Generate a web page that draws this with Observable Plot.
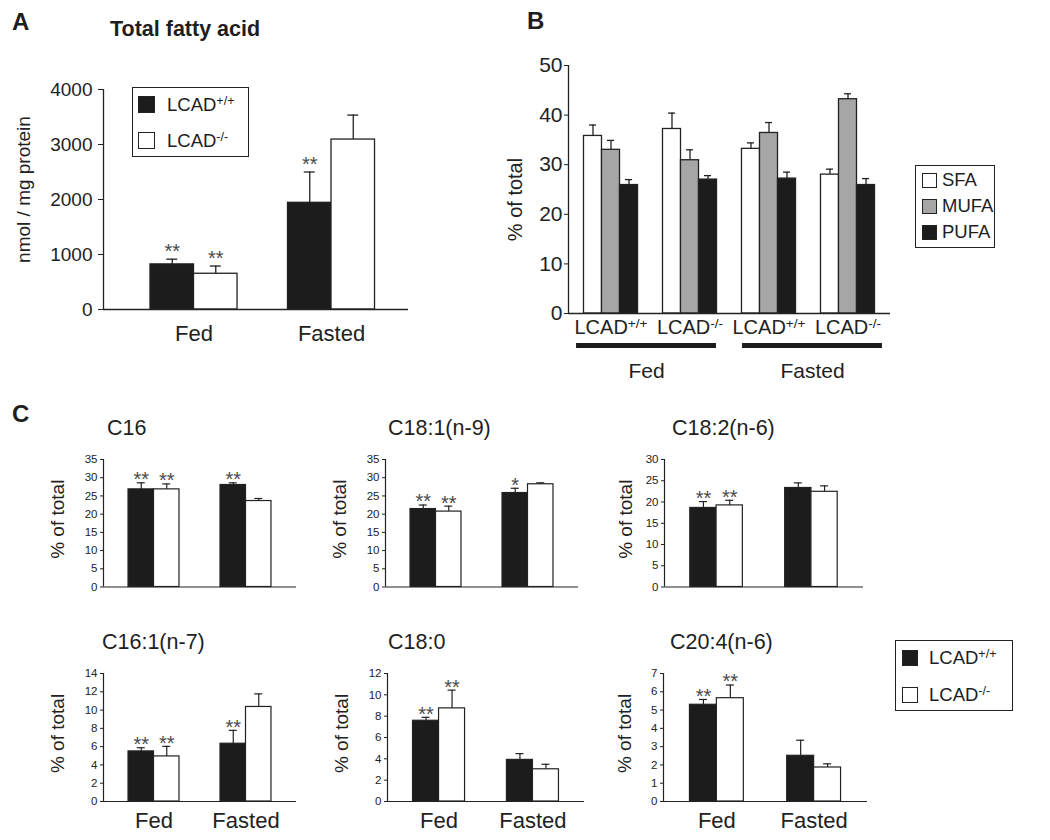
<!DOCTYPE html>
<html>
<head>
<meta charset="utf-8">
<script src="https://cdn.jsdelivr.net/npm/d3@7"></script>
<script src="https://cdn.jsdelivr.net/npm/@observablehq/plot@0.6"></script>
<style>
  html, body { margin: 0; padding: 0; background: #fff; }
  body { font-family: "Liberation Sans", Arial, Helvetica, sans-serif; color: #1e1e1e; }
  #fig { position: relative; width: 1050px; height: 840px; overflow: hidden; background: #fff; }
  #fig svg { position: absolute; }
  .t { position: absolute; line-height: 1; white-space: nowrap; }
  .b { font-weight: bold; }
  .box { position: absolute; box-sizing: border-box; border: 1.3px solid #222; background: #fff; }
  .sw { position: absolute; box-sizing: border-box; border: 1.3px solid #222; }
  .sup { font-size: 0.68em; position: relative; top: -0.47em; }
</style>
</head>
<body>
<div id="fig"></div>
<script>
// ---------------- DATA ----------------
const conditions = ["Fed", "Fasted"];
const genotypes = ["LCAD+/+", "LCAD-/-"];

// Panel A: total fatty acid, nmol / mg protein (mean and SEM)
const totalMeanWT = [820, 1940];
const totalSemWT = [95, 560];
const totalSigWT = ["**", "**"];
const totalMeanKO = [650, 3090];
const totalSemKO = [140, 445];
const totalSigKO = ["**", ""];
const totalTicks = [0, 1000, 2000, 3000, 4000];

// Panel B: fatty acid classes, % of total; groups = Fed WT, Fed KO, Fasted WT, Fasted KO
const classNames = ["SFA", "MUFA", "PUFA"];
const sfaMean = [35.8, 37.2, 33.2, 28.0];
const sfaSem = [2.2, 3.2, 1.2, 1.1];
const mufaMean = [33.0, 30.9, 36.4, 43.2];
const mufaSem = [1.9, 2.1, 2.1, 1.1];
const pufaMean = [25.9, 27.0, 27.2, 25.9];
const pufaSem = [1.1, 0.8, 1.3, 1.3];
const classTicks = [0, 10, 20, 30, 40, 50];

// Panel C: individual fatty acids, % of total; [Fed, Fasted]
const acidNames = ["C16", "C18:1(n-9)", "C18:2(n-6)", "C16:1(n-7)", "C18:0", "C20:4(n-6)"];
const acidMeanWT = [[26.8, 28.0], [21.4, 25.8], [18.6, 23.3], [5.48, 6.32], [7.57, 3.9], [5.29, 2.5]];
const acidSemWT  = [[1.8, 0.6], [1.1, 1.3], [1.5, 1.2], [0.4, 1.46], [0.32, 0.59], [0.29, 0.85]];
const acidSigWT  = [["**", "**"], ["**", "*"], ["**", ""], ["**", "**"], ["**", ""], ["**", ""]];
const acidMeanKO = [[26.8, 23.6], [20.7, 28.2], [19.2, 22.4], [4.93, 10.34], [8.73, 3.02], [5.65, 1.86]];
const acidSemKO  = [[1.5, 0.7], [1.5, 0.4], [1.2, 1.4], [1.1, 1.43], [1.71, 0.47], [0.72, 0.2]];
const acidSigKO  = [["**", ""], ["**", ""], ["**", ""], ["**", ""], ["**", ""], ["**", ""]];
const acidTicks = [
  [0, 5, 10, 15, 20, 25, 30, 35],
  [0, 5, 10, 15, 20, 25, 30, 35],
  [0, 5, 10, 15, 20, 25, 30],
  [0, 2, 4, 6, 8, 10, 12, 14],
  [0, 2, 4, 6, 8, 10, 12],
  [0, 1, 2, 3, 4, 5, 6, 7]
];

// ---------------- STYLE ----------------
const FONT = '"Liberation Sans", Arial, Helvetica, sans-serif';
const INK = "#222";
const BLACK = "#1c1c1c";
const GREY = "#a6a6a6";
const WHITE = "#ffffff";
const fig = document.getElementById("fig");

function superscripts(svg) {
  svg.querySelectorAll("text").forEach(t => {
    const m = t.textContent.match(/^LCAD(.+)$/);
    if (m && t.children.length === 0) {
      t.textContent = "LCAD";
      const ts = document.createElementNS("http://www.w3.org/2000/svg", "tspan");
      ts.setAttribute("dy", "-0.45em");
      ts.setAttribute("font-size", "68%");
      ts.textContent = m[1];
      t.appendChild(ts);
    }
  });
}

function barPanel(c) {
  const range = [c.mL, c.width - c.mR];
  const bandOpts = {type: "band", domain: c.groups, range, round: false,
    paddingInner: c.band[0], paddingOuter: c.band[1], align: c.band[2]};
  const bw = Plot.scale({x: bandOpts}).bandwidth;
  const n = c.series.length;
  const sub = bw / n;
  const fw = c.width - c.mL - c.mR;
  const marks = [];
  c.series.forEach((s, k) => {
    const rows = c.groups.map((g, i) => ({g, v: s.values[i], top: s.values[i] + s.errors[i], sig: s.sig ? s.sig[i] : ""}));
    const inL = k * sub, inR = (n - 1 - k) * sub;
    const dx = (k + 0.5) * sub - bw / 2;
    const capInset = (bw - c.capW) / 2;
    marks.push(Plot.barY(rows, {x: "g", y: "v", fill: s.fill, stroke: INK, strokeWidth: c.lineW, insetLeft: inL, insetRight: inR}));
    marks.push(Plot.ruleX(rows, {x: "g", y1: "v", y2: "top", dx, stroke: INK, strokeWidth: c.lineW}));
    marks.push(Plot.tickY(rows, {x: "g", y: "top", dx, insetLeft: capInset, insetRight: capInset, stroke: INK, strokeWidth: c.lineW}));
    const starred = rows.filter(d => d.sig);
    if (starred.length) marks.push(Plot.text(starred, {x: "g", y: "top", text: "sig", dx, dy: c.starDy, fontSize: c.starFont, fill: "#4a4a4a"}));
  });
  marks.push(Plot.ruleY([c.yDomain[0]], {stroke: INK, strokeWidth: c.lineW}));
  marks.push(Plot.ruleX([0], {x: null, y1: c.yDomain[0], y2: c.yDomain[1], dx: -fw / 2, stroke: INK, strokeWidth: c.lineW}));
  marks.push(Plot.axisY({ticks: c.yTicks, tickFormat: d => String(d), tickSize: c.yTickSize, tickPadding: c.yTickPadding, fontSize: c.tickFont, label: null, stroke: INK, fill: INK}));
  marks.push(Plot.text([c.yLabel], {text: d => d, frameAnchor: "left", textAnchor: "middle", rotate: -90, dx: -c.yLabelOffset, dy: c.yLabelDy || 0, fontSize: c.yLabelFont, fill: INK}));
  const xScale = Object.assign({}, bandOpts);
  if (c.xAxis) {
    marks.push(Plot.axisX({tickSize: 0, tickPadding: c.xTickPadding, fontSize: c.xFont, label: null, tickFormat: c.xTickFormat || (d => d)}));
  } else {
    xScale.axis = null;
  }
  const svg = Plot.plot({
    width: c.width, height: c.height,
    marginLeft: c.mL, marginRight: c.mR, marginTop: c.mT, marginBottom: c.mB,
    x: xScale,
    y: {domain: c.yDomain, nice: false},
    style: {fontFamily: FONT, fontSize: "14px", color: INK, background: "transparent", overflow: "visible"},
    marks
  });
  svg.style.left = c.left + "px";
  svg.style.top = c.top + "px";
  superscripts(svg);
  fig.appendChild(svg);
  return svg;
}

function label(html, left, capTop, size, bold) {
  const d = document.createElement("div");
  d.className = "t" + (bold ? " b" : "");
  d.style.left = left + "px";
  d.style.top = (capTop - 0.13 * size) + "px";
  d.style.fontSize = size + "px";
  d.innerHTML = html;
  fig.appendChild(d);
  return d;
}

function legendBox(left, top, w, h, items) {
  const b = document.createElement("div");
  b.className = "box";
  Object.assign(b.style, {left: left + "px", top: top + "px", width: w + "px", height: h + "px"});
  fig.appendChild(b);
  items.forEach(it => {
    const s = document.createElement("div");
    s.className = "sw";
    Object.assign(s.style, {left: it.sx + "px", top: it.sy + "px", width: it.ss + "px", height: it.ss + "px", background: it.fill});
    fig.appendChild(s);
    label(it.html, it.tx, it.capTop, it.size, false);
  });
}

function genoHTML(g) {
  return "LCAD<span class='sup'>" + g.slice(4) + "</span>";
}

// ---------------- PANEL A ----------------
barPanel({
  left: 0, top: 0, width: 420, height: 350, mL: 103, mR: 12, mT: 89, mB: 41,
  groups: conditions, band: [0.367, 0.2926, 0.584],
  series: [
    {values: totalMeanWT, errors: totalSemWT, sig: totalSigWT, fill: BLACK},
    {values: totalMeanKO, errors: totalSemKO, sig: totalSigKO, fill: WHITE}
  ],
  yDomain: [0, 4000], yTicks: totalTicks, yTickSize: 5, yTickPadding: 6, tickFont: 19,
  yLabel: "nmol / mg protein", yLabelFont: 19, yLabelOffset: 80, yLabelDy: -10,
  xAxis: true, xFont: 22, xTickPadding: 16,
  capW: 11, starFont: 20, starDy: -7.5, lineW: 1.3
});
label("A", 12, 13, 24, true);
label("Total fatty acid", 110, 22, 21.5, true);
legendBox(132, 87, 117, 70, [
  {sx: 138, sy: 96, ss: 17, fill: BLACK, html: genoHTML(genotypes[0]), tx: 167, capTop: 98.8, size: 18.5},
  {sx: 138, sy: 132, ss: 17, fill: WHITE, html: genoHTML(genotypes[1]), tx: 167, capTop: 134.8, size: 18.5}
]);

// ---------------- PANEL B ----------------
const classGroups = conditions.flatMap(c => genotypes.map(g => c + "|" + g));
barPanel({
  left: 480, top: 0, width: 420, height: 340, mL: 88, mR: 10, mT: 65, mB: 27,
  groups: classGroups, band: [0.316, 0.196, 0.5],
  series: [
    {values: sfaMean, errors: sfaSem, fill: WHITE},
    {values: mufaMean, errors: mufaSem, fill: GREY},
    {values: pufaMean, errors: pufaSem, fill: BLACK}
  ],
  yDomain: [0, 50], yTicks: classTicks, yTickSize: 4, yTickPadding: 2, tickFont: 21,
  yLabel: "% of total", yLabelFont: 20, yLabelOffset: 53, yLabelDy: 10,
  xAxis: true, xTickFormat: d => d.split("|")[1], xFont: 20, xTickPadding: 6,
  capW: 7, starFont: 20, starDy: -8, lineW: 1.3
});
// condition bars under panel B
{
  const svg = Plot.plot({
    width: 420, height: 45, marginLeft: 88, marginRight: 10, marginTop: 5, marginBottom: 35,
    x: {type: "band", domain: conditions, paddingInner: 0.157, paddingOuter: 0.0485, round: false},
    marks: [
      Plot.cell(conditions, {x: d => d, fill: BLACK, inset: 0}),
      Plot.axisX({tickSize: 0, tickPadding: 15, fontSize: 21, label: null})
    ],
    style: {fontFamily: FONT, fontSize: "14px", color: INK, background: "transparent", overflow: "visible"}
  });
  svg.style.left = "480px";
  svg.style.top = "338px";
  fig.appendChild(svg);
}
label("B", 527, 12, 24, true);
legendBox(915, 165, 80, 83, [
  {sx: 922, sy: 172.5, ss: 15, fill: WHITE, html: classNames[0], tx: 942, capTop: 173.4, size: 18.5},
  {sx: 922, sy: 198.5, ss: 15, fill: GREY, html: classNames[1], tx: 942, capTop: 199.4, size: 18.5},
  {sx: 922, sy: 224.5, ss: 15, fill: BLACK, html: classNames[2], tx: 942, capTop: 225.4, size: 18.5}
]);

// ---------------- PANEL C ----------------
const cLayout = [
  {left: 0,   top: 400, width: 310, height: 200, mL: 103, mR: 14, mT: 59, mB: 13.5, off: 46, xAxis: false, tx: 107, ty: 420.5},
  {left: 310, top: 400, width: 285, height: 200, mL: 75,  mR: 17, mT: 59, mB: 13.5, off: 46, xAxis: false, tx: 388, ty: 420.5},
  {left: 600, top: 400, width: 290, height: 200, mL: 64,  mR: 27, mT: 59, mB: 13.5, off: 39, xAxis: false, tx: 672, ty: 420.5},
  {left: 0,   top: 620, width: 310, height: 220, mL: 103, mR: 14, mT: 53, mB: 39, off: 46, xAxis: true, tx: 102, ty: 634.5},
  {left: 310, top: 620, width: 285, height: 220, mL: 77,  mR: 11, mT: 53, mB: 39, off: 46, xAxis: true, tx: 388, ty: 634.5},
  {left: 600, top: 620, width: 290, height: 220, mL: 63,  mR: 23, mT: 53, mB: 39, off: 39, xAxis: true, tx: 670, ty: 634.5}
];
acidNames.forEach((name, i) => {
  const L = cLayout[i];
  const ticks = acidTicks[i];
  barPanel({
    left: L.left, top: L.top, width: L.width, height: L.height, mL: L.mL, mR: L.mR, mT: L.mT, mB: L.mB,
    groups: conditions, band: [0.446, 0.272, 0.5],
    series: [
      {values: acidMeanWT[i], errors: acidSemWT[i], sig: acidSigWT[i], fill: BLACK},
      {values: acidMeanKO[i], errors: acidSemKO[i], sig: acidSigKO[i], fill: WHITE}
    ],
    yDomain: [0, ticks[ticks.length - 1]], yTicks: ticks, yTickSize: 3, yTickPadding: 3, tickFont: 11.5,
    yLabel: "% of total", yLabelFont: 19, yLabelOffset: L.off, yLabelDy: -4,
    xAxis: L.xAxis, xFont: 22, xTickPadding: 11,
    capW: 8, starFont: 20, starDy: -3, lineW: 1.2
  });
  label(name, L.tx, L.ty, 21.5, false);
});
label("C", 12, 405, 24, true);
legendBox(895, 640, 118, 71, [
  {sx: 902, sy: 650, ss: 16, fill: BLACK, html: genoHTML(genotypes[0]), tx: 929, capTop: 651.8, size: 18.5},
  {sx: 902, sy: 687, ss: 16, fill: WHITE, html: genoHTML(genotypes[1]), tx: 929, capTop: 688.8, size: 18.5}
]);
</script>
</body>
</html>
